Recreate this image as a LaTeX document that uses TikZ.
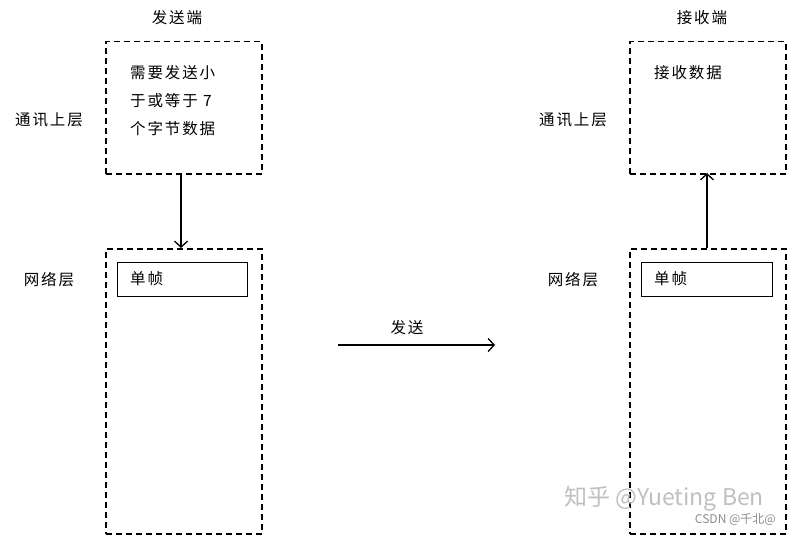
\documentclass[tikz,border=0pt]{standalone}
\usepackage{fontspec}
\setmainfont{Liberation Sans}
\newfontfamily\cjk{Noto Sans CJK SC}[LetterSpace=12]
\newfontfamily\wmfont{Noto Sans CJK SC}
\usetikzlibrary{arrows.meta}
\begin{document}
\begin{tikzpicture}[x=1pt,y=-1pt,
  dbox/.style={draw, line width=1.5pt, dash pattern=on 6pt off 4pt},
  fbox/.style={draw, line width=1.2pt},
  lbl/.style={font=\cjk\fontsize{15.5}{28}\selectfont, inner sep=0pt},
  conn/.style={line width=1.3pt, -{Straight Barb[length=6pt,width=13pt,line width=1.3pt]}}
]
\useasboundingbox (0,0) rectangle (790,535);
% left column
\node[dbox, minimum width=156pt, minimum height=132pt, inner sep=0pt, anchor=north west] (lup) at (105,41) {};
\node[dbox, minimum width=156pt, minimum height=285pt, inner sep=0pt, anchor=north west] (llow) at (105,248) {};
\node[fbox, minimum width=130pt, minimum height=34pt, inner sep=0pt, anchor=north west] (lframe) at (117,262) {};
\node[lbl, anchor=west] (lframet) at (130,279) {单帧};
\node[lbl, align=left, anchor=west] (ltxt) at (130,101) {需要发送小\\于或等于 7\\个字节数据};
\node[lbl] (ltitle) at (177,18) {发送端};
\node[lbl] (lupper) at (49,120) {通讯上层};
\node[lbl] (lnet) at (49,280) {网络层};
% right column
\node[dbox, minimum width=156pt, minimum height=132pt, inner sep=0pt, anchor=north west] (rup) at (629,41) {};
\node[dbox, minimum width=156pt, minimum height=285pt, inner sep=0pt, anchor=north west] (rlow) at (629,248) {};
\node[fbox, minimum width=131pt, minimum height=34pt, inner sep=0pt, anchor=north west] (rframe) at (641,262) {};
\node[lbl, anchor=west] (rframet) at (654,279) {单帧};
\node[lbl, anchor=west] (rtxt) at (654,73) {接收数据};
\node[lbl] (rtitle) at (702,18) {接收端};
\node[lbl] (rupper) at (573,120) {通讯上层};
\node[lbl] (rnet) at (573,280) {网络层};
% connectors
\coordinate (la) at (181,173);
\coordinate (lb) at (181,248);
\draw[conn] (la) -- (lb);
\coordinate (ra) at (707,248);
\coordinate (rb) at (707,173);
\draw[conn] (ra) -- (rb);
\coordinate (ma) at (338,345);
\coordinate (mb) at (495,345);
\draw[conn] (ma) -- (mb);
\node[lbl] (send) at (407,328) {发送};
% watermark
\node[font=\wmfont\fontsize{23}{23}\selectfont, text=black!25, inner sep=0pt, anchor=west] (wm1) at (564,499) {知乎 @Yueting Ben};
\node[font=\wmfont\fontsize{12}{12}\selectfont, text=black!45, inner sep=0pt, anchor=east] (wm2) at (776,520) {CSDN @千北@};
\end{tikzpicture}
\end{document}
